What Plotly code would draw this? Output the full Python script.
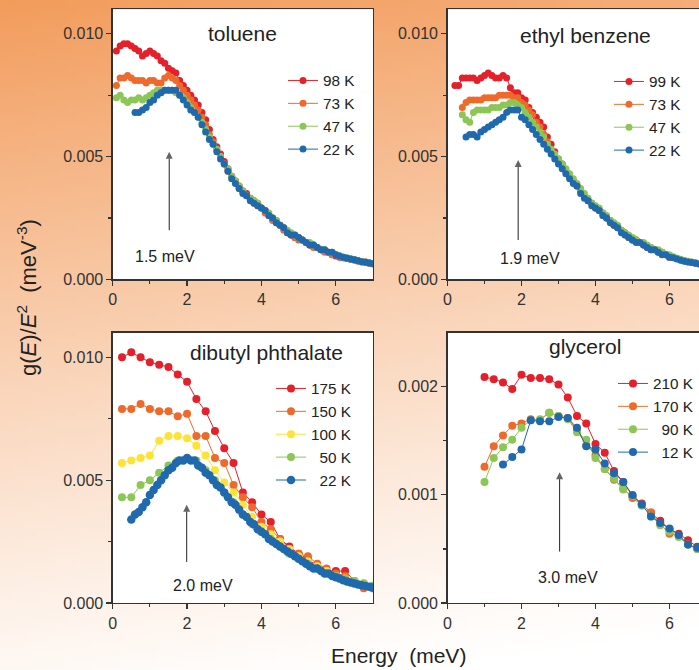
import zlib, struct, base64
import plotly.graph_objects as go

# ---------------- data ----------------
# fine energy grid (meV) 0.1 ... 7.0
E_FINE = [0.1, 0.2, 0.3, 0.4, 0.5, 0.6, 0.7, 0.8, 0.9, 1.0,
          1.1, 1.2, 1.3, 1.4, 1.5, 1.6, 1.7, 1.8, 1.9, 2.0,
          2.1, 2.2, 2.3, 2.4, 2.5, 2.6, 2.7, 2.8, 2.9, 3.0,
          3.1, 3.2, 3.3, 3.4, 3.5, 3.6, 3.7, 3.8, 3.9, 4.0,
          4.1, 4.2, 4.3, 4.4, 4.5, 4.6, 4.7, 4.8, 4.9, 5.0,
          5.1, 5.2, 5.3, 5.4, 5.5, 5.6, 5.7, 5.8, 5.9, 6.0,
          6.1, 6.2, 6.3, 6.4, 6.5, 6.6, 6.7, 6.8, 6.9, 7.0]
# coarse energy grid (meV) 0.25 ... 7.0
E_COARSE = [0.25, 0.5, 0.75, 1.0, 1.25, 1.5, 1.75, 2.0, 2.25, 2.5,
            2.75, 3.0, 3.25, 3.5, 3.75, 4.0, 4.25, 4.5, 4.75, 5.0,
            5.25, 5.5, 5.75, 6.0, 6.25, 6.5, 6.75, 7.0]

# toluene
TOL_LABELS = ["98 K", "73 K", "47 K", "22 K"]
TOL_98 = [0.0093, 0.0095, 0.0096, 0.0096, 0.0095, 0.0094, 0.0093, 0.0091, 0.0092, 0.0093,
          0.0092, 0.0091, 0.0089, 0.0088, 0.0086, 0.0085, 0.0084, 0.0081, 0.0079, 0.0077,
          0.0075, 0.0073, 0.0071, 0.0068, 0.0065, 0.0061, 0.0057, 0.0054, 0.0051, 0.0048,
          0.0045, 0.0042, 0.0040, 0.0038, 0.0036, 0.0035, 0.0033, 0.0032, 0.0031, 0.0029,
          0.0028, 0.0026, 0.0025, 0.0024, 0.0022, 0.0021, 0.0019, 0.0018, 0.0017, 0.0017,
          0.0016, 0.0015, 0.0014, 0.0014, 0.0013, 0.0012, 0.00115, 0.0011, 0.0010, 0.00095,
          0.0009, 0.00088, 0.00085, 0.00082, 0.0008, 0.00076, 0.00072, 0.0007, 0.00066, 0.00064]
TOL_73 = [0.0079, 0.0082, 0.0082, 0.0083, 0.0082, 0.0081, 0.0081, 0.0081, 0.0080, 0.0081,
          0.0081, 0.0080, 0.0080, 0.0082, 0.0083, 0.0082, 0.0081, 0.0079, 0.0077, 0.0075,
          0.0073, 0.0071, 0.0069, 0.0066, 0.0063, 0.0059, 0.0056, 0.0053, 0.0050, 0.0047,
          0.0044, 0.0042, 0.0040, 0.0037, 0.0036, 0.0034, 0.0033, 0.0031, 0.0030, 0.0029,
          0.0027, 0.0026, 0.0024, 0.0023, 0.0022, 0.0020, 0.0019, 0.0018, 0.0017, 0.0016,
          0.0016, 0.0015, 0.0014, 0.0013, 0.0013, 0.0012, 0.0011, 0.0011, 0.0010, 0.0010,
          0.00093, 0.00088, 0.00085, 0.00082, 0.00078, 0.00074, 0.0007, 0.00068, 0.00065, 0.00062]
TOL_47 = [0.0074, 0.0075, 0.0073, 0.0072, 0.0073, 0.0073, 0.0074, 0.0073, 0.0074, 0.0075,
          0.0076, 0.0077, 0.0077, 0.0077, 0.0077, 0.0077, 0.0076, 0.0075, 0.0074, 0.0072,
          0.0070, 0.0068, 0.0066, 0.0064, 0.0061, 0.0058, 0.0055, 0.0053, 0.0050, 0.0047,
          0.0045, 0.0042, 0.0040, 0.0038, 0.0036, 0.0034, 0.0033, 0.0032, 0.0031, 0.0029,
          0.0028, 0.0027, 0.0025, 0.0024, 0.0022, 0.0021, 0.0020, 0.0019, 0.0018, 0.0017,
          0.0016, 0.0015, 0.0015, 0.0014, 0.0013, 0.0012, 0.0012, 0.0011, 0.0011, 0.0010,
          0.00096, 0.00091, 0.00088, 0.00084, 0.00081, 0.00077, 0.00073, 0.0007, 0.00067, 0.00064]
TOL_22 = [None, None, None, None, None, 0.0068, 0.0068, 0.0069, 0.0070, 0.0072,
          0.0073, 0.0075, 0.0076, 0.0077, 0.0077, 0.0077, 0.0077, 0.0075, 0.0073, 0.0071,
          0.0069, 0.0068, 0.0066, 0.0063, 0.0060, 0.0057, 0.0055, 0.0052, 0.0049, 0.0047,
          0.0044, 0.0041, 0.0039, 0.0037, 0.0035, 0.0034, 0.0032, 0.0031, 0.0030, 0.0029,
          0.0028, 0.0026, 0.0025, 0.0023, 0.0022, 0.0021, 0.0019, 0.0018, 0.0018, 0.0017,
          0.0016, 0.0015, 0.0014, 0.0014, 0.0013, 0.0012, 0.0012, 0.0011, 0.0011, 0.0010,
          0.00095, 0.0009, 0.00087, 0.00083, 0.0008, 0.00076, 0.00072, 0.00069, 0.00066, 0.00063]

# ethyl benzene
ETB_LABELS = ["99 K", "73 K", "47 K", "22 K"]
ETB_99 = [None, 0.0079, 0.0079, 0.0082, 0.0082, 0.0082, 0.0082, 0.0081, 0.0082, 0.0083,
          0.0084, 0.0083, 0.0082, 0.0082, 0.0083, 0.0082, 0.0078, 0.0076, 0.0076, 0.0074,
          0.0073, 0.0070, 0.0068, 0.0066, 0.0064, 0.0062, 0.0058, 0.0055, 0.0052, 0.0049,
          0.0047, 0.0044, 0.0042, 0.0040, 0.0038, 0.0036, 0.0034, 0.0032, 0.0031, 0.0029,
          0.0028, 0.0027, 0.0025, 0.0024, 0.0022, 0.0021, 0.0020, 0.0019, 0.0017, 0.0016,
          0.0016, 0.0015, 0.0014, 0.0013, 0.0012, 0.0012, 0.0011, 0.0011, 0.0010, 0.0009,
          0.0009, 0.00085, 0.0008, 0.00076, 0.00072, 0.00069, 0.00066, 0.00063, 0.0006, 0.00058]
ETB_73 = [None, None, None, 0.0070, 0.0072, 0.0073, 0.0073, 0.0073, 0.0073, 0.0074,
          0.0074, 0.0074, 0.0074, 0.0075, 0.0075, 0.0075, 0.0075, 0.0074, 0.0074, 0.0072,
          0.0071, 0.0069, 0.0067, 0.0064, 0.0062, 0.0059, 0.0056, 0.0053, 0.0050, 0.0048,
          0.0046, 0.0044, 0.0042, 0.0040, 0.0038, 0.0036, 0.0034, 0.0032, 0.0031, 0.0029,
          0.0028, 0.0026, 0.0025, 0.0024, 0.0022, 0.0021, 0.0020, 0.0018, 0.0017, 0.0016,
          0.0016, 0.0015, 0.0014, 0.0013, 0.0013, 0.0012, 0.0011, 0.0011, 0.0010, 0.0009,
          0.0009, 0.00085, 0.0008, 0.00076, 0.00072, 0.00069, 0.00066, 0.00063, 0.0006, 0.00058]
ETB_47 = [None, None, None, 0.0067, 0.0065, 0.0064, 0.0068, 0.0069, 0.0069, 0.0069,
          0.0069, 0.0070, 0.0070, 0.0070, 0.0071, 0.0071, 0.0072, 0.0072, 0.0071, 0.0070,
          0.0068, 0.0066, 0.0064, 0.0062, 0.0060, 0.0058, 0.0055, 0.0053, 0.0051, 0.0049,
          0.0047, 0.0045, 0.0043, 0.0041, 0.0039, 0.0037, 0.0035, 0.0033, 0.0031, 0.0030,
          0.0029, 0.0027, 0.0026, 0.0024, 0.0023, 0.0022, 0.0020, 0.0019, 0.0018, 0.0017,
          0.0016, 0.0015, 0.0015, 0.0014, 0.0013, 0.0012, 0.0012, 0.0011, 0.0010, 0.0010,
          0.00092, 0.00087, 0.00082, 0.00078, 0.00074, 0.0007, 0.00067, 0.00064, 0.00061, 0.00059]
ETB_22 = [None, None, None, None, 0.0058, 0.0059, 0.0059, 0.0058, 0.0060, 0.0061,
          0.0062, 0.0063, 0.0064, 0.0065, 0.0066, 0.0068, 0.0069, 0.0069, 0.0069, 0.0066,
          0.0065, 0.0063, 0.0061, 0.0059, 0.0057, 0.0055, 0.0053, 0.0051, 0.0049, 0.0047,
          0.0045, 0.0043, 0.0041, 0.0039, 0.0038, 0.0035, 0.0033, 0.0032, 0.0030, 0.0029,
          0.0028, 0.0026, 0.0025, 0.0023, 0.0022, 0.0021, 0.0019, 0.0018, 0.0017, 0.0016,
          0.0015, 0.0015, 0.0014, 0.0013, 0.0012, 0.0012, 0.0011, 0.0010, 0.0010, 0.0009,
          0.00088, 0.00083, 0.00078, 0.00074, 0.0007, 0.00068, 0.00065, 0.00062, 0.0006, 0.00058]

# dibutyl phthalate
DBP_LABELS = ["175 K", "150 K", "100 K", "\u200750 K", "\u200722 K"]
DBP_175 = [0.0100, 0.0102, 0.0100, 0.0098, 0.0097, 0.0096, 0.0093, 0.0090, 0.0083, 0.0078,
           0.0070, 0.0063, 0.0057, 0.0045, 0.0041, 0.0036, 0.0033, 0.0026, 0.0023, 0.0020,
           0.0018, 0.0015, 0.0013, 0.0013, 0.0013, 0.0009, 0.0007, 0.0006]
DBP_150 = [0.0079, 0.0079, 0.0081, 0.0079, 0.0078, 0.0078, 0.0076, 0.0077, 0.0068, 0.0068,
           0.0059, 0.0057, 0.0048, 0.0043, 0.0039, 0.0033, 0.0030, 0.0026, 0.0022, 0.0020,
           0.0019, 0.0016, 0.0014, 0.0012, 0.0011, 0.0009, 0.0006, 0.0006]
DBP_100 = [0.0057, 0.0058, 0.0059, 0.0060, 0.0066, 0.0068, 0.0068, 0.0067, 0.0064, 0.0060,
           0.0054, 0.0049, 0.0045, 0.0040, 0.0035, 0.0031, 0.0028, 0.0025, 0.0022, 0.0019,
           0.0017, 0.0015, 0.0013, 0.0011, 0.0010, 0.0009, 0.0008, 0.0007]
DBP_50 = [0.0043, 0.0043, 0.0048, 0.0050, 0.0053, 0.0056, 0.0058, 0.0059, 0.0058, 0.0054,
          0.0050, 0.0045, 0.0041, 0.0036, 0.0032, 0.0029, 0.0026, 0.0023, 0.0020, 0.0018,
          0.0016, 0.0014, 0.0012, 0.0011, 0.0010, 0.0009, 0.0008, 0.0007]
DBP_22 = [None, None, None, None, 0.0034, 0.0036, 0.0037, 0.0039, 0.0041, 0.0044,
          0.0046, 0.0048, 0.0050, 0.0052, 0.0054, 0.0055, 0.0057, 0.0058, 0.0058, 0.0059,
          0.0058, 0.0058, 0.0056, 0.0055, 0.0053, 0.0052, 0.0050, 0.0048, 0.0047, 0.0045,
          0.0043, 0.0041, 0.0040, 0.0038, 0.0036, 0.0035, 0.0033, 0.0032, 0.0030, 0.0029,
          0.0028, 0.0026, 0.0025, 0.0024, 0.0023, 0.0022, 0.0021, 0.0020, 0.0019, 0.0018,
          0.0017, 0.0016, 0.0015, 0.0014, 0.0014, 0.0013, 0.0012, 0.0012, 0.0011, 0.00105,
          0.0010, 0.00093, 0.00088, 0.00083, 0.00079, 0.00075, 0.00072, 0.00069, 0.00066, 0.00063]

# glycerol
GLY_LABELS = ["210 K", "170 K", "\u200790 K", "\u200712 K"]
GLY_210 = [None, None, None, 0.00209, 0.00207, 0.00204, 0.00198, 0.00211, 0.00208, 0.00208,
           0.00207, 0.00202, 0.00190, 0.00173, 0.00166, 0.00147, 0.00139, 0.00122, 0.00112, 0.00099,
           0.00092, 0.00083, 0.00076, 0.00068, 0.00064, 0.00058, 0.00052, 0.00048]
GLY_170 = [None, None, None, 0.00126, 0.00145, 0.00155, 0.00164, 0.00166, 0.00170, 0.00169,
           0.00176, 0.00173, 0.00171, 0.00160, 0.00146, 0.00137, 0.00124, 0.00114, 0.00106, 0.00097,
           0.00091, 0.00084, 0.00073, 0.00064, 0.00062, 0.00054, 0.00050, 0.00046]
GLY_90 = [None, None, None, 0.00112, 0.00134, 0.00144, 0.00151, 0.00162, 0.00169, 0.00170,
          0.00176, 0.00173, 0.00170, 0.00158, 0.00151, 0.00134, 0.00124, 0.00115, 0.00105, 0.00099,
          0.00090, 0.00080, 0.00072, 0.00066, 0.00061, 0.00054, 0.00050, 0.00046]
GLY_12 = [None, None, None, None, None, 0.00128, 0.00135, 0.00142, 0.00169, 0.00168,
          0.00168, 0.00172, 0.00171, 0.00162, 0.00145, 0.00142, 0.00129, 0.00120, 0.00112, 0.00100,
          0.00091, 0.00080, 0.00074, 0.00069, 0.00063, 0.00054, 0.00051, 0.00047]

PANEL_TITLES = ["toluene", "ethyl benzene", "dibutyl phthalate", "glycerol"]
PEAK_LABELS = ["1.5 meV", "1.9 meV", "2.0 meV", "3.0 meV"]
PEAK_POS = [1.52, 1.91, 1.99, 3.03]
# arrow tail / head heights and label anchor for each panel
ARROW_TAIL = [0.0020, 0.0016, 0.00167, 0.000476]
ARROW_HEAD = [0.0052, 0.00486, 0.0040, 0.00121]
LABEL_X = [1.40, 2.22, 2.44, 3.27]
LABEL_Y = [0.00092, 0.00086, 0.00072, 0.000238]

RED, ORANGE, YELLOW, GREEN, BLUE = "#e5202a", "#ef6a2a", "#fde335", "#8cc756", "#1f69ae"

# ---------------- background gradient ----------------
def make_png(w, h):
    raw = bytearray()
    o = (242, 156, 92)
    for j in range(h):
        raw.append(0)
        v = j / (h - 1)
        for i in range(w):
            u = i / (w - 1)
            t = 1 - 0.9 * v - 0.15 * u
            t = max(0.0, min(1.0, t)) ** 1.15
            raw += bytes(int(round(255 + (c - 255) * t)) for c in o)

    def chunk(tag, data):
        c = struct.pack('>I', len(data)) + tag + data
        return c + struct.pack('>I', zlib.crc32(tag + data) & 0xffffffff)
    png = (b'\x89PNG\r\n\x1a\n' + chunk(b'IHDR', struct.pack('>IIBBBBB', w, h, 8, 2, 0, 0, 0))
           + chunk(b'IDAT', zlib.compress(bytes(raw), 9)) + chunk(b'IEND', b''))
    return 'data:image/png;base64,' + base64.b64encode(png).decode()

FONT = "Liberation Sans, Arial, sans-serif"
fig = go.Figure()

def add_series(x, y, name, color, xa, ya, leg, msize):
    fig.add_trace(go.Scatter(
        x=x, y=y, name=name, mode="lines+markers", xaxis=xa, yaxis=ya, legend=leg,
        line=dict(color=color, width=1), marker=dict(color=color, size=msize),
        connectgaps=False, hoverinfo="skip"))

for lab, ys, col in zip(TOL_LABELS, [TOL_98, TOL_73, TOL_47, TOL_22], [RED, ORANGE, GREEN, BLUE]):
    add_series(E_FINE, ys, lab, col, "x", "y", "legend", 7)
for lab, ys, col in zip(ETB_LABELS, [ETB_99, ETB_73, ETB_47, ETB_22], [RED, ORANGE, GREEN, BLUE]):
    add_series(E_FINE, ys, lab, col, "x2", "y2", "legend2", 7)
for lab, ys, col in zip(DBP_LABELS[:4], [DBP_175, DBP_150, DBP_100, DBP_50], [RED, ORANGE, YELLOW, GREEN]):
    add_series(E_COARSE, ys, lab, col, "x3", "y3", "legend3", 8)
add_series(E_FINE, DBP_22, DBP_LABELS[4], BLUE, "x3", "y3", "legend3", 8.5)
for lab, ys, col in zip(GLY_LABELS, [GLY_210, GLY_170, GLY_90, GLY_12], [RED, ORANGE, GREEN, BLUE]):
    add_series(E_COARSE, ys, lab, col, "x4", "y4", "legend4", 8)

# peak arrows (line with an arrow-head marker at the tip)
for i, (xa, ya) in enumerate([("x", "y"), ("x2", "y2"), ("x3", "y3"), ("x4", "y4")]):
    fig.add_trace(go.Scatter(
        x=[PEAK_POS[i], PEAK_POS[i]], y=[ARROW_TAIL[i], ARROW_HEAD[i]],
        mode="lines+markers", xaxis=xa, yaxis=ya, showlegend=False, hoverinfo="skip",
        line=dict(color="#222", width=1),
        marker=dict(symbol=["line-ew", "arrow-up"], size=[0, 7], color="#222",
                    line=dict(width=0))))

W, H = 699, 670
def px(x):
    return x / W
def py(y):
    return 1 - y / H

AX = "#333333"
def xax(dom, anchor, rng):
    return dict(domain=dom, anchor=anchor, range=rng, showline=True, mirror=True,
                linecolor=AX, linewidth=1.3, ticks="outside", ticklen=5, tickwidth=1.2,
                tickcolor=AX, tickvals=[0, 2, 4, 6], ticktext=["0", "2", "4", "6"],
                tickfont=dict(size=16, color="#333", family=FONT),
                minor=dict(tickvals=[1, 3, 5], ticks="outside", ticklen=3, tickcolor=AX),
                showgrid=False, zeroline=False, automargin=False, fixedrange=True)

def yax(dom, anchor, rng, major, minor, mirror=True):
    return dict(domain=dom, anchor=anchor, range=rng, showline=True, mirror=mirror,
                linecolor=AX, linewidth=1.3, ticks="outside", ticklen=5, tickwidth=1.2,
                tickcolor=AX, tickvals=major, tickformat=".3f",
                tickfont=dict(size=16, color="#333", family=FONT),
                minor=dict(tickvals=minor, ticks="outside", ticklen=3, tickcolor=AX),
                showgrid=False, zeroline=False, automargin=False, fixedrange=True)

XL = [px(112.7), px(373)]
XR = [px(447.5), 1.0]
YT = [py(279.3), py(9.3)]
YB = [py(603), py(332.7)]
RMAX = (699 - 447.5) / 37.0

def legend_at(x, y):
    return dict(x=x, y=y, xanchor="left", yanchor="top", bgcolor="rgba(0,0,0,0)",
                font=dict(size=15.3, color="#222", family=FONT), tracegroupgap=0,
                itemclick=False, itemdoubleclick=False)

ann = []
titles_pos = [(3.5, 0.0100, "x", "y"), (3.72, 0.00995, "x2", "y2"),
              (4.13, 0.01018, "x3", "y3"), (3.72, 0.00237, "x4", "y4")]
for t, (x, y, xr, yr) in zip(PANEL_TITLES, titles_pos):
    ann.append(dict(text=t, x=x, y=y, xref=xr, yref=yr, showarrow=False,
                    xanchor="center", yanchor="middle",
                    font=dict(size=21, color="#222", family=FONT)))
for i, (xr, yr) in enumerate([("x", "y"), ("x2", "y2"), ("x3", "y3"), ("x4", "y4")]):
    ann.append(dict(text=PEAK_LABELS[i], x=LABEL_X[i], y=LABEL_Y[i], xref=xr, yref=yr,
                    showarrow=False, xanchor="center", yanchor="middle",
                    font=dict(size=16, color="#222", family=FONT)))
ann.append(dict(text="g(<i>E</i>)/<i>E</i><sup>2</sup>  (meV<sup>-3</sup>)", x=px(27), y=py(298),
                xref="paper", yref="paper", textangle=-90, showarrow=False,
                xanchor="center", yanchor="middle",
                font=dict(size=22, color="#222", family=FONT)))
ann.append(dict(text="Energy  (meV)", x=px(398), y=py(655), xref="paper", yref="paper",
                showarrow=False, xanchor="center", yanchor="middle",
                font=dict(size=21, color="#222", family=FONT)))

# white plot areas drawn above the gradient image
shapes = []
for xr, yr in [("x", "y"), ("x2", "y2"), ("x3", "y3"), ("x4", "y4")]:
    shapes.append(dict(type="rect", xref=xr + " domain", yref=yr + " domain",
                       x0=0, x1=1, y0=0, y1=1, fillcolor="white", line=dict(width=0),
                       layer="below"))

fig.update_layout(
    width=W, height=H, margin=dict(l=0, r=0, t=0, b=0),
    paper_bgcolor="white", plot_bgcolor="white",
    font=dict(family=FONT, color="#222"),
    showlegend=True,
    xaxis=xax(XL, "y", [0, 7]), yaxis=yax(YT, "x", [0, 0.011], [0, 0.005, 0.010], [0.0025, 0.0075]),
    xaxis2=xax(XR, "y2", [0, RMAX]), yaxis2=yax(YT, "x2", [0, 0.011], [0, 0.005, 0.010], [0.0025, 0.0075], mirror=False),
    xaxis3=xax(XL, "y3", [0, 7]), yaxis3=yax(YB, "x3", [0, 0.011], [0, 0.005, 0.010], [0.0025, 0.0075]),
    xaxis4=xax(XR, "y4", [0, RMAX]), yaxis4=yax(YB, "x4", [0, 0.0025], [0, 0.001, 0.002], [0.0005, 0.0015], mirror=False),
    legend=legend_at(px(283), py(64)),
    legend2=legend_at(px(609), py(65)),
    legend3=legend_at(px(271), py(372)),
    legend4=legend_at(px(613), py(367)),
    annotations=ann,
    shapes=shapes,
    images=[dict(source=make_png(140, 134), xref="paper", yref="paper", x=0, y=1,
                 sizex=1, sizey=1, sizing="stretch", xanchor="left", yanchor="top",
                 layer="below")],
)

fig.write_html("out.html", config={"displayModeBar": False, "staticPlot": True},
               post_script="document.body.style.margin='0px';document.body.style.overflow='hidden';")
